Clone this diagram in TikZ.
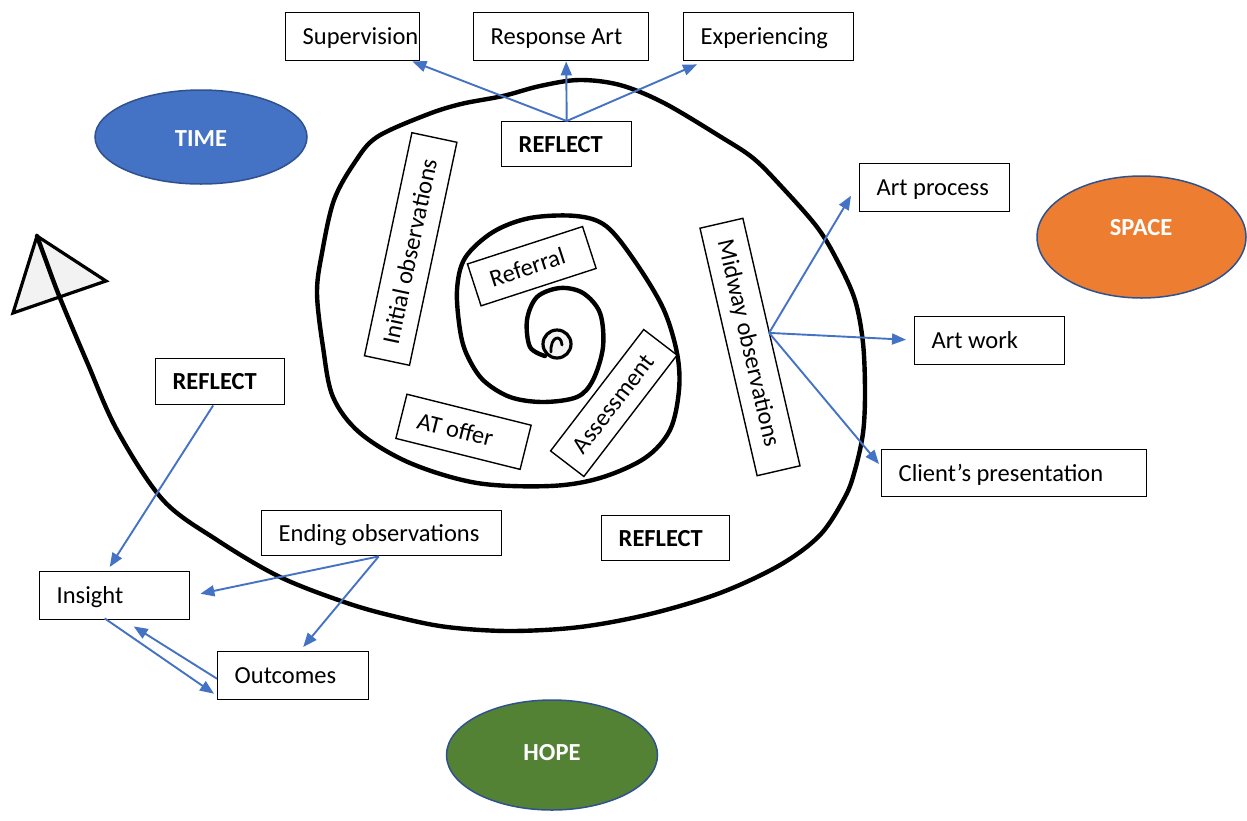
\documentclass[tikz,border=0pt]{standalone}
\usepackage{fontspec}
\setmainfont{Carlito}
\usetikzlibrary{arrows.meta,shapes.geometric,calc}
\definecolor{timeblue}{HTML}{4472C4}
\definecolor{spaceorange}{HTML}{ED7D31}
\definecolor{hopegreen}{HTML}{548235}
\definecolor{rimblue}{HTML}{2F528F}
\definecolor{linkblue}{HTML}{4472C4}
\definecolor{headgray}{HTML}{F2F2F2}
% fixed-width, left-aligned label inside a box
\newcommand\fitw[2]{\makebox[#1][l]{#2}}
\begin{document}
\begin{tikzpicture}[x=1pt,y=-1pt,
  every node/.style={font=\fontsize{24.5}{29}\selectfont},
  box/.style={draw=black, line width=1.4pt, fill=white, inner xsep=17pt,
    inner ysep=0pt, text height=15.8pt, text depth=0pt},
  tbox/.style={box, anchor=north west},
  oval/.style={ellipse, draw=rimblue, line width=1.5pt, inner sep=0pt},
  ovaltext/.style={text=white, font=\fontsize{24.5}{29}\selectfont\bfseries},
  link/.style={draw=linkblue, line width=1.9pt, -{Triangle[length=14pt,width=11pt]}},
  spiral/.style={line width=4.4pt, line cap=round, line join=round}
]
\useasboundingbox (0,0) rectangle (1247,820);
\fill[white] (0,0) rectangle (1247,820);

% ovals
\node[oval, fill=timeblue, minimum width=212pt, minimum height=94pt] (time) at (201,137) {};
\node[ovaltext] (timet) at (201,139) {TIME};
\node[oval, fill=spaceorange, minimum width=209pt, minimum height=122pt] (space) at (1141.5,237) {};
\node[ovaltext] (spacet) at (1141,228) {SPACE};
\node[oval, fill=hopegreen, minimum width=211pt, minimum height=110pt] (hope) at (552,755) {};
\node[ovaltext] (hopet) at (552,753) {HOPE};

% arrow head of the spiral
\draw[line width=3.2pt, fill=headgray] (37,236) -- (106,281) -- (13,313) -- cycle;

% the spiral, from its outer tip inwards
\draw[spiral] plot[smooth, tension=0.55] coordinates {
 (37,236) (45,258) (60,298) (87,362) (117,430) (163,500) (217,540) (280,577)
 (347,603) (397,617) (447,627) (510,631) (580,627) (650,614) (720,593) (780,565)
 (820,535) (845,497) (855,470) (863,433) (865,393) (863,343) (855,300) (838,262)
 (817,227) (780,185) (753,158) (721,137) (664,103) (620,85) (579,80) (540,86)
 (503,96) (461,104) (426,115) (377,137) (355,162) (334,200) (322,253) (317,293)
 (323,347) (333,397) (360,433) (410,463) (477,483) (550,486) (600,478) (645,458)
 (670,430) (679,390) (677,353) (663,308) (634,260) (606,226) (576,216) (530,218)
 (493,232) (465,258) (457,290) (460,330) (467,355) (483,380) (510,397) (543,402)
 (577,397) (593,380) (603,347) (600,313) (583,293) (560,288) (537,297) (527,320)
 (530,347) (545,356)};
\draw[line width=3.2pt, fill=headgray] (557,344) circle[radius=14];
\draw[line width=2.8pt, line cap=round] (551,352) .. controls (550,337) and (561,333) .. (562,345);

% boxes
\node[tbox, minimum height=48pt] (sup) at (285,12) {\fitw{100pt}{Supervision}};
\node[tbox, minimum height=48pt] (resp) at (473,12) {\fitw{141pt}{Response Art}};
\node[tbox, minimum height=48pt] (exper) at (683,12) {\fitw{136pt}{Experiencing}};
\node[tbox, minimum height=45pt] (refT) at (501,121) {\fitw{96pt}{\bfseries REFLECT}};
\node[tbox, minimum height=48pt] (artp) at (859,163) {\fitw{116pt}{Art process}};
\node[tbox, minimum height=48pt] (artw) at (914,316) {\fitw{116pt}{Art work}};
\node[tbox, minimum height=47pt] (client) at (881,449) {\fitw{231pt}{Client’s presentation}};
\node[tbox, minimum height=45pt] (refR) at (601,515) {\fitw{94pt}{\bfseries REFLECT}};
\node[tbox, minimum height=46pt] (refL) at (155,358) {\fitw{95pt}{\bfseries REFLECT}};
\node[tbox, minimum height=45pt] (endobs) at (261,510) {\fitw{206pt}{Ending observations}};
\node[tbox, minimum height=48pt] (insight) at (39,571) {\fitw{116pt}{Insight}};
\node[tbox, minimum height=48pt] (outc) at (217,651) {\fitw{117pt}{Outcomes}};

% tilted boxes inside the spiral
\node[box, rotate=78, minimum height=46pt] (initobs) at (410.7,249) {\fitw{194pt}{Initial observations}};
\node[box, rotate=-77, minimum height=44pt] (midobs) at (750,347) {\fitw{220pt}{Midway observations}};
\node[box, rotate=18, minimum height=44pt] (referral) at (531.8,266.2) {\fitw{87pt}{Referral}};
\node[box, rotate=-14, minimum height=45.5pt] (atoffer) at (463.5,431.8) {\fitw{94pt}{AT offer}};
\node[box, rotate=52.5, minimum height=42pt] (assess) at (613.8,403) {\fitw{119pt}{Assessment}};

% connectors
\draw[link] (refT.north) -- ([xshift=-8pt]sup.south east);
\draw[link] (refT.north) -- ([xshift=5pt]resp.south);
\draw[link] (refT.north) -- ([xshift=14pt,yshift=-3pt]exper.south west);

\draw[link] ([xshift=-3pt,yshift=9pt]midobs.north) -- ([xshift=-8pt,yshift=-8pt]artp.west);
\draw[link] ([xshift=-3pt,yshift=9pt]midobs.north) -- ([xshift=-8pt,yshift=1pt]artw.west);
\draw[link] ([xshift=-3pt,yshift=9pt]midobs.north) -- ([xshift=-2pt,yshift=-15pt]client.north west);

\draw[link] ([xshift=-7pt]refL.south) -- ([xshift=-5pt,yshift=4pt]insight.north);

\draw[link] ([xshift=-3pt]endobs.south) -- ([xshift=10pt,yshift=2pt]insight.east);
\draw[link] ([xshift=-3pt]endobs.south) -- ([xshift=10pt,yshift=4pt]outc.north);

\draw[link] ([xshift=-10pt,yshift=2pt]insight.south) -- ([xshift=-3pt,yshift=-18pt]outc.west);
\draw[link] ([yshift=-3pt]outc.west) -- ([xshift=19pt,yshift=-6pt]insight.south);
\end{tikzpicture}
\end{document}
